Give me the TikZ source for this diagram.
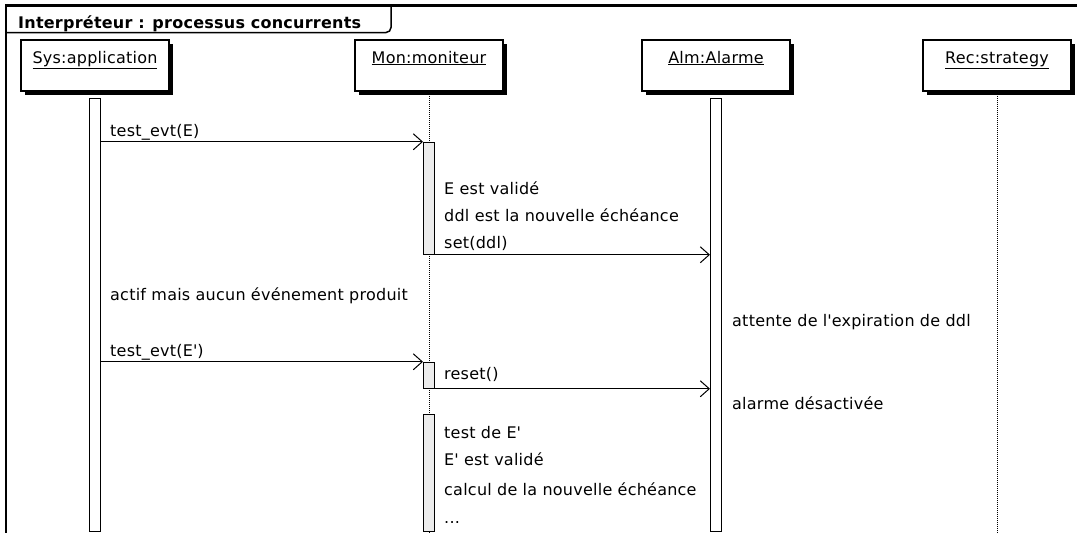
\documentclass[tikz,border=0pt]{standalone}
\usepackage{fontspec}
\setmainfont[LetterSpace=1.5]{DejaVu Sans}
\usepackage{tikz}
\usetikzlibrary{arrows.meta, shadows, positioning}

\begin{document}
\begin{tikzpicture}[
      x=1pt, y=-1pt,
      every node/.style={font=\fontsize{16pt}{19pt}\selectfont},
      objbox/.style={draw, line width=1.5pt, fill=white, minimum width=148pt,
        inner sep=5pt, text height=18pt, text depth=23pt,
        drop shadow={shadow xshift=4pt, shadow yshift=-4pt, fill=black, opacity=1}},
      actbar/.style={draw, line width=1pt, fill=white, minimum width=11pt, inner sep=0pt},
      monbar/.style={actbar, fill=gray!15},
      lifeline/.style={densely dotted, line width=1pt},
      msg/.style={-{Straight Barb[length=9pt,width=16pt]}, line width=1pt},
      txt/.style={anchor=base west, inner sep=0pt}
    ]
  \useasboundingbox (0,0) rectangle (1077,533);
  % frame and its title
  \draw[line width=2.5pt] (6,545) -- (6,5.5) -- (1090,5.5);
  \draw[line width=1.5pt, rounded corners=5pt] (6,32.5) -- (391,32.5) -- (391,5.5);
  \node[txt, font=\bfseries\fontsize{16pt}{19pt}\selectfont] (title) at (18,28)
    {Interpréteur : processus concurrents};

  % objects
  \node[objbox] (sys) at (95,65.5) {\underline{Sys:application}};
  \node[objbox] (mon) at (429,65.5) {\underline{Mon:moniteur}};
  \node[objbox] (alm) at (716,65.5) {\underline{Alm:Alarme}};
  \node[objbox] (rec) at (997,65.5) {\underline{Rec:strategy}};

  % lifelines
  \coordinate (monend) at (mon.south |- 0,540);
  \coordinate (recend) at (rec.south |- 0,540);
  \draw[lifeline] (mon.south) -- (monend);
  \draw[lifeline] (rec.south) -- (recend);

  % activation bars
  \node[actbar, minimum height=433pt, below=6pt of sys] (sysbar) {};
  \node[actbar, minimum height=433pt, below=6pt of alm] (almbar) {};
  \node[monbar, minimum height=112pt, below=50pt of mon] (mon1) {};
  \node[monbar, minimum height=26pt, below=270pt of mon] (mon2) {};
  \node[monbar, minimum height=117pt, below=322pt of mon] (mon3) {};

  % messages
  \draw[msg] (sysbar.east |- mon1.north) -- (mon1.north west);
  \draw[msg] (mon1.south east) -- (almbar.west |- mon1.south);
  \draw[msg] (sysbar.east |- mon2.north) -- (mon2.north west);
  \draw[msg] (mon2.south east) -- (almbar.west |- mon2.south);

  % texts
  \node[txt] (t1) at (110,136) {test\_evt(E)};
  \node[txt] (t2) at (444,194) {E est validé};
  \node[txt] (t3) at (444,221) {ddl est la nouvelle échéance};
  \node[txt] (t4) at (444,248) {set(ddl)};
  \node[txt] (t5) at (110,300) {actif mais aucun événement produit};
  \node[txt] (t6) at (732,326) {attente de l\textquotesingle expiration de ddl};
  \node[txt] (t7) at (110,356) {test\_evt(E\textquotesingle)};
  \node[txt] (t8) at (444,379) {reset()};
  \node[txt] (t9) at (732,409) {alarme désactivée};
  \node[txt] (t10) at (444,438) {test de E\textquotesingle};
  \node[txt] (t11) at (444,465) {E\textquotesingle{} est validé};
  \node[txt] (t12) at (444,495) {calcul de la nouvelle échéance};
  \node[txt] (t13) at (444,523) {...};
\end{tikzpicture}
\end{document}
